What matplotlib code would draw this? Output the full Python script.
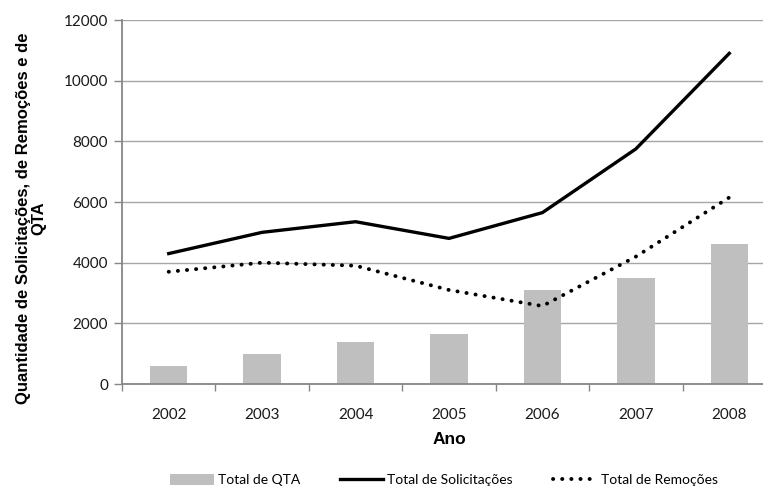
import numpy as np
import matplotlib
matplotlib.use("Agg")
import matplotlib.pyplot as plt

# yearly totals
anos = ['2002', '2003', '2004', '2005', '2006', '2007', '2008']
total_qta = [600, 1000, 1380, 1660, 3100, 3500, 4600]
total_solicitacoes = [4300, 5000, 5350, 4800, 5650, 7750, 10900]
total_remocoes = [3700, 4000, 3900, 3100, 2570, 4200, 6150]

W, H = 763, 487
fig = plt.figure(figsize=(W / 100, H / 100), dpi=100)
# plot area runs slightly past the right edge of the canvas
ax = fig.add_axes([122 / W, 1 - 384 / H, (776 - 122) / W, (384 - 20) / H])

x = np.arange(len(anos))
grid_c = '#a6a6a6'
axis_c = '#868686'

b = ax.bar(x, total_qta, width=0.4, color='#bfbfbf', zorder=2, label='Total de QTA')
l1, = ax.plot(x, total_solicitacoes, color='black', lw=2.4, zorder=3,
              solid_joinstyle='miter', label='Total de Solicitações')
l2, = ax.plot(x, total_remocoes, color='black', lw=2.8, zorder=3,
              linestyle=(0, (0.05, 2.3)), dash_capstyle='round',
              label='Total de Remoções')

ax.set_xlim(-0.5, len(anos) - 0.5)
ax.set_ylim(0, 12000)
ax.set_yticks(np.arange(0, 12001, 2000))
ax.yaxis.grid(True, color=grid_c, lw=1.0, zorder=0)
ax.set_axisbelow(True)

# category ticks sit on the slot boundaries, labels in the middle
ax.set_xticks(np.arange(-0.5, len(anos), 1.0))
ax.set_xticklabels([])
ax.set_xticks(x, minor=True)
ax.set_xticklabels(anos, minor=True)
ax.tick_params(axis='x', which='minor', length=0, pad=17)
ax.tick_params(axis='x', which='major', length=5, color=axis_c, width=1)
ax.tick_params(axis='y', length=6, color=axis_c, width=1, pad=4)

for lab in ax.get_xticklabels(minor=True) + ax.get_yticklabels():
    lab.set_fontfamily('Lato')
    lab.set_fontsize(11)
    lab.set_color('#1a1a1a')

for s in ['top', 'right']:
    ax.spines[s].set_visible(False)
for s in ['left', 'bottom']:
    ax.spines[s].set_color(axis_c)
    ax.spines[s].set_linewidth(1.3)

fig.text(449 / W, 1 - 440 / H, 'Ano', ha='center', va='center',
         fontfamily='Liberation Sans', fontweight='bold', fontsize=12.5)
fig.text(31 / W, 1 - 218 / H,
         'Quantidade de Solicitações, de Remoções e de\nQTA',
         rotation=90, ha='center', va='center', multialignment='center',
         fontfamily='Liberation Sans', fontweight='bold', fontsize=12,
         linespacing=1.05)

leg = fig.legend([b, l1, l2], ['Total de QTA', 'Total de Solicitações', 'Total de Remoções'],
                 loc='center', bbox_to_anchor=(444 / W, 1 - 480 / H), ncol=3,
                 frameon=False, prop={'family': 'Lato', 'size': 10},
                 handlelength=3.1, handleheight=0.8, handletextpad=0.3,
                 columnspacing=2.9)

fig.savefig('out.png', dpi=100)
